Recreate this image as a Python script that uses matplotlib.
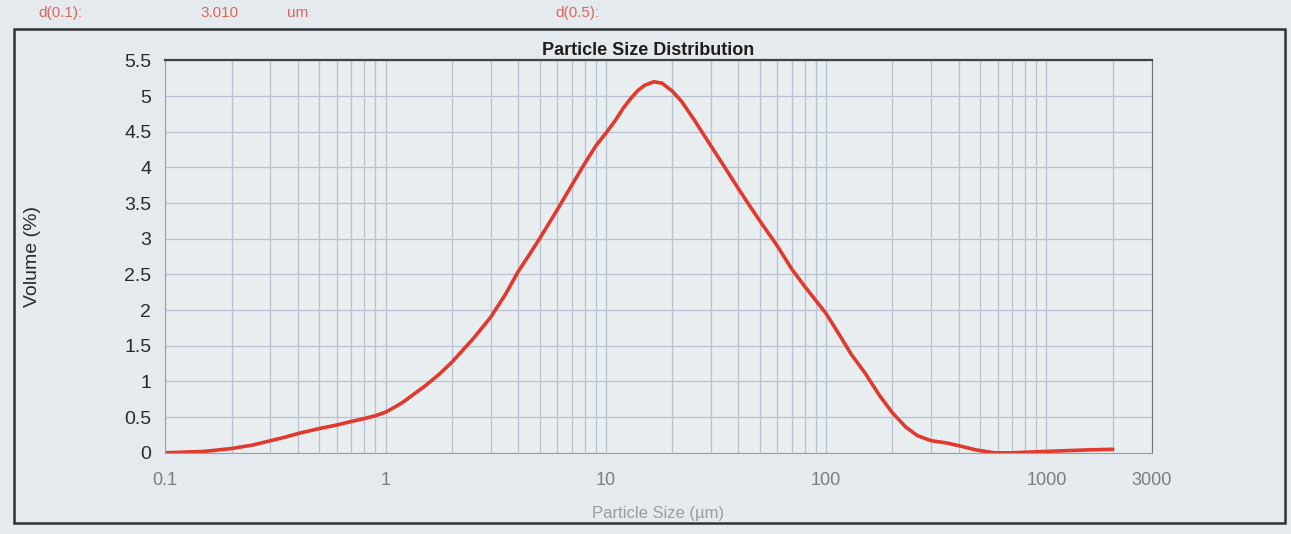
from matplotlib import pyplot as plt
from matplotlib.patches import Rectangle
from matplotlib.ticker import FixedLocator, NullFormatter

# values
size_um = [0.1, 0.15, 0.2, 0.25, 0.3, 0.35, 0.4, 0.5, 0.6, 0.7, 0.8, 0.9,
           1.0, 1.1, 1.2, 1.3, 1.5, 1.75, 2.0, 2.5, 3.0, 3.5, 4, 4.5, 5, 6,
           7, 8, 9, 10, 11, 12, 13, 14, 15, 16.5, 18, 20, 22, 25, 30, 35,
           40, 45, 50, 60, 70, 80, 90, 100, 115, 130, 150, 175, 200, 230,
           260, 300, 350, 400, 480, 580, 700, 1000, 1500, 2000]
volume_pct = [0.0, 0.02, 0.06, 0.11, 0.17, 0.22, 0.27, 0.34, 0.39, 0.44,
              0.48, 0.52, 0.57, 0.64, 0.71, 0.79, 0.93, 1.1, 1.27, 1.6,
              1.9, 2.22, 2.54, 2.78, 3.0, 3.4, 3.75, 4.05, 4.3, 4.48, 4.65,
              4.83, 4.97, 5.08, 5.15, 5.2, 5.18, 5.07, 4.93, 4.68, 4.3,
              3.98, 3.7, 3.46, 3.25, 2.9, 2.57, 2.33, 2.13, 1.95, 1.65,
              1.38, 1.12, 0.8, 0.56, 0.36, 0.24, 0.17, 0.14, 0.1, 0.04,
              0.0, 0.0, 0.02, 0.04, 0.05]

x_ticks = [0.1, 1, 10, 100, 1000, 3000]
x_tick_labels = ['0.1', '1', '10', '100', '1000', '3000']
y_ticks = [0, 0.5, 1, 1.5, 2, 2.5, 3, 3.5, 4, 4.5, 5, 5.5]
y_tick_labels = ['0', '0.5', '1', '1.5', '2', '2.5', '3', '3.5', '4',
                 '4.5', '5', '5.5']

bg = '#e4eaed'
grid_col = '#b9c1d1'

plt.rcParams['font.family'] = ['Liberation Sans', 'DejaVu Sans']

fig = plt.figure(figsize=(12.91, 5.34), dpi=100, facecolor=bg)
ax = fig.add_axes([0.128, 0.152, 0.764, 0.735])
ax.set_facecolor('#e8edef')

ax.plot(size_um, volume_pct, color='#e0392e', lw=2.6, solid_capstyle='round',
        solid_joinstyle='round')

ax.set_xscale('log')
ax.set_xlim(0.1, 3000)
ax.set_ylim(0, 5.5)

ax.set_xticks(x_ticks)
ax.set_xticklabels(x_tick_labels, color='#7a7d80', fontsize=13)
minor = [m * 10.0 ** e for e in range(-1, 4) for m in range(2, 10)
         if m * 10.0 ** e < 3000]
ax.xaxis.set_minor_locator(FixedLocator(minor))
ax.xaxis.set_minor_formatter(NullFormatter())
ax.set_yticks(y_ticks)
ax.set_yticklabels(y_tick_labels, color='#2a2a2a', fontsize=14)

ax.tick_params(which='both', length=0)
ax.tick_params(axis='x', pad=14)
ax.tick_params(axis='y', pad=10)
ax.grid(True, which='both', color=grid_col, lw=0.9)

for side in ['left', 'bottom']:
    ax.spines[side].set_color('#9aa0a6')
ax.spines['right'].set_color('#6d7278')
ax.spines['top'].set_color('#3d4246')
ax.spines['top'].set_linewidth(1.6)

ax.set_title('Particle Size Distribution', fontsize=13, fontweight='bold',
             color='#1e1e1e', pad=4, x=0.49)
ax.set_xlabel('Particle Size (µm)', color='#9a9da0', fontsize=12, labelpad=12)
ax.set_ylabel('Volume (%)', color='#2a2a2a', fontsize=14, labelpad=60)

# outer report frame
fig.patches.append(Rectangle((0.011, 0.02), 0.984, 0.925, fill=False,
                             edgecolor='#2e3236', lw=1.8,
                             transform=fig.transFigure))

# header line above the frame
red = '#d9675f'
fig.text(0.03, 0.975, 'd(0.1):', color=red, fontsize=11, va='center')
fig.text(0.155, 0.975, '3.010', color=red, fontsize=11, va='center')
fig.text(0.222, 0.975, 'um', color=red, fontsize=11, va='center')
fig.text(0.43, 0.975, 'd(0.5):', color=red, fontsize=11, va='center')

fig.savefig('out.png', dpi=100, facecolor=bg)
